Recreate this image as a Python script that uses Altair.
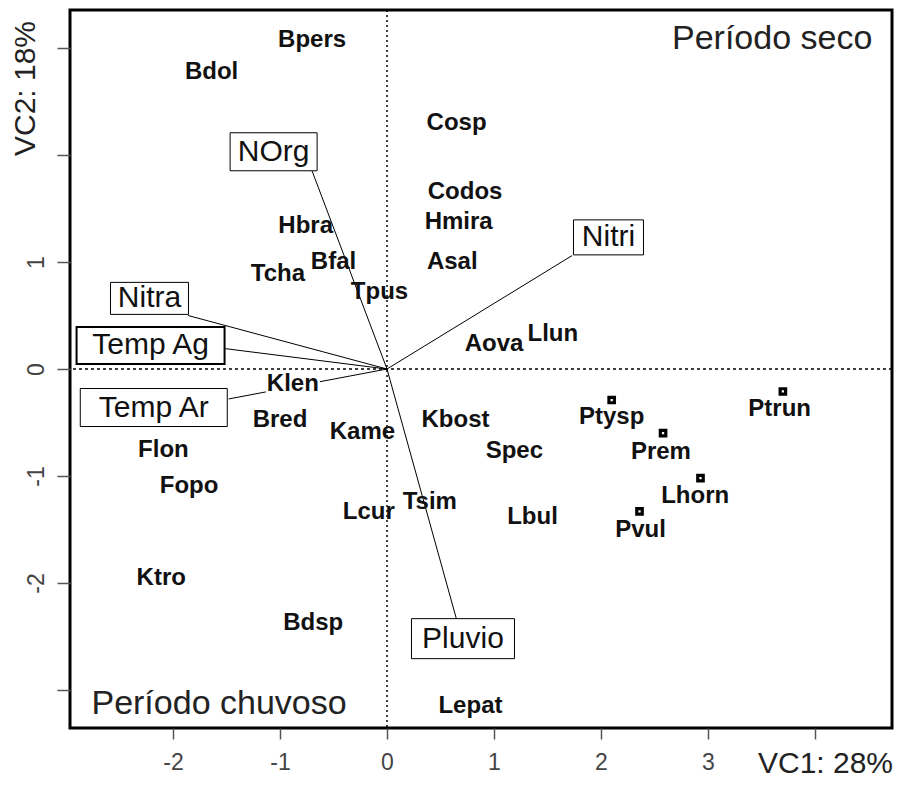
import altair as alt
import pandas as pd

# ---- data ----
sp_names = ["Bpers", "Bdol", "Cosp", "Codos", "Hmira", "Hbra", "Bfal", "Tcha", "Tpus",
            "Asal", "Aova", "Llun", "Klen", "Bred", "Kame", "Kbost", "Flon", "Spec",
            "Fopo", "Tsim", "Lcur", "Lbul", "Ktro", "Bdsp", "Lepat",
            "Ptysp", "Prem", "Lhorn", "Pvul", "Ptrun"]
sp_x = [-0.70, -1.64, 0.65, 0.73, 0.67, -0.76, -0.50, -1.02, -0.07,
        0.61, 1.00, 1.55, -0.88, -1.00, -0.23, 0.64, -2.09, 1.19,
        -1.85, 0.40, -0.17, 1.36, -2.11, -0.69, 0.78,
        2.10, 2.56, 2.88, 2.37, 3.67]
sp_y = [3.07, 2.78, 2.30, 1.65, 1.37, 1.34, 1.00, 0.89, 0.72,
        1.00, 0.23, 0.33, -0.14, -0.48, -0.59, -0.48, -0.76, -0.77,
        -1.09, -1.24, -1.34, -1.38, -1.95, -2.37, -3.15,
        -0.45, -0.78, -1.19, -1.50, -0.37]

mk_names = ["Ptysp", "Prem", "Lhorn", "Pvul", "Ptrun"]
mk_x = [2.10, 2.58, 2.93, 2.36, 3.70]
mk_y = [-0.29, -0.60, -1.02, -1.33, -0.21]

env_names = ["NOrg", "Nitri", "Nitra", "Temp Ag", "Temp Ar", "Pluvio"]
env_x = [-0.70, 1.73, -1.86, -1.51, -1.48, 0.65]
env_y = [1.85, 1.06, 0.50, 0.19, -0.28, -2.34]
env_lx = [-1.06, 2.07, -2.22, -2.21, -2.18, 0.71]
env_ly = [2.03, 1.23, 0.66, 0.22, -0.36, -2.52]

quad_names = ["Período seco", "Período chuvoso"]
quad_x = [3.60, -1.57]
quad_y = [3.08, -3.13]

x_ticks = [-2, -1, 0, 1, 2, 3, 4]
y_ticks = [-3, -2, -1, 0, 1, 2, 3]
x_title = "VC1: 28%"
y_title = "VC2: 18%"

# ---- frames ----
sp = pd.DataFrame({"name": sp_names, "x": sp_x, "y": sp_y})
mk = pd.DataFrame({"name": mk_names, "x": mk_x, "y": mk_y})
env = pd.DataFrame({"name": env_names, "ex": env_x, "ey": env_y, "lx": env_lx, "ly": env_ly})
quad = pd.DataFrame({"name": quad_names, "x": quad_x, "y": quad_y})
zero = pd.DataFrame({"z": [0]})

FONT = "Liberation Sans"
xs = alt.Scale(domain=[-2.963, 4.72], nice=False, zero=False)
ys = alt.Scale(domain=[-3.355, 3.355], nice=False, zero=False)

xaxis = alt.Axis(values=x_ticks, labelExpr="datum.value == 4 ? '' : toString(datum.value)",
                 title=x_title, titleX=755, titleY=35, titleAlign="center",
                 titleBaseline="middle", titleFontSize=30, titleFontWeight="normal",
                 titleColor="#222", titleFont=FONT, labelFont=FONT, labelFontSize=23,
                 labelColor="#444", tickSize=11, tickColor="#555", tickWidth=1.5,
                 domain=False, grid=False, labelPadding=12, labelFlush=False,
                 labelOverlap=False)
yaxis = alt.Axis(values=y_ticks,
                 labelExpr="(datum.value >= -2 && datum.value <= 1) ? toString(datum.value) : ''",
                 title=y_title, titleX=-45, titleY=78, titleAngle=-90, titleAlign="center",
                 titleBaseline="middle", titleFontSize=30, titleFontWeight="normal",
                 titleColor="#222", titleFont=FONT, labelFont=FONT, labelFontSize=23,
                 labelColor="#444", labelAngle=-90, labelAlign="center",
                 labelBaseline="alphabetic", tickSize=13, tickColor="#555", tickWidth=1.5,
                 domain=False, grid=False, labelPadding=14, labelFlush=False,
                 labelOverlap=False)


def X(f):
    return alt.X(f, type="quantitative", scale=xs, axis=xaxis)


def Y(f):
    return alt.Y(f, type="quantitative", scale=ys, axis=yaxis)


vzero = alt.Chart(zero).mark_rule(color="black", strokeWidth=1.5, strokeDash=[2, 3]).encode(x=X("z"))
hzero = alt.Chart(zero).mark_rule(color="black", strokeWidth=1.5, strokeDash=[3, 3]).encode(y=Y("z"))

vec = alt.Chart(env).transform_calculate(x0="0", y0="0").mark_rule(
    color="black", strokeWidth=1).encode(
    x=X("x0:Q"), y=Y("y0:Q"), x2="ex:Q", y2="ey:Q")

# white patch behind Klen (label interrupts the Temp Ar vector)
klen = alt.Chart(sp[sp.name == "Klen"]).mark_rect(width=54, height=20, fill="white").encode(
    x=X("x"), y=Y("y"))

box_w = [87, 70, 78, 148, 147, 103]
box_h = [38, 35, 32, 37, 38, 40]
box_sw = [1, 1, 1, 2, 1, 1]
boxes = []
for i in range(len(env_names)):
    boxes.append(
        alt.Chart(env.iloc[[i]]).mark_rect(width=box_w[i], height=box_h[i], fill="white",
                                           stroke="black", strokeWidth=box_sw[i]).encode(
            x=X("lx"), y=Y("ly")))

env_txt = alt.Chart(env).mark_text(font=FONT, fontSize=30, color="#111", baseline="middle",
                                   align="center").encode(x=X("lx"), y=Y("ly"), text="name")

markers = alt.Chart(mk).mark_square(filled=False, stroke="black", strokeWidth=3.2, size=30,
                                    opacity=1).encode(x=X("x"), y=Y("y"))

sp_txt = alt.Chart(sp).mark_text(font=FONT, fontSize=24, fontWeight="bold", color="#111",
                                 baseline="middle", align="center").encode(
    x=X("x"), y=Y("y"), text="name")

quad_txt = alt.Chart(quad).mark_text(font=FONT, fontSize=34, color="#222", baseline="middle",
                                     align="center").encode(x=X("x"), y=Y("y"), text="name")

chart = alt.layer(vzero, hzero, vec, klen, *boxes, env_txt, markers, sp_txt, quad_txt).properties(
    width=822, height=718,
    background="white",
    autosize=alt.AutoSizeParams(type="none"),
    padding={"left": 62, "top": 2, "right": 2, "bottom": 52},
).configure_view(stroke="black", strokeWidth=3)

chart.save("out.html", embed_options={"renderer": "svg", "actions": False})
